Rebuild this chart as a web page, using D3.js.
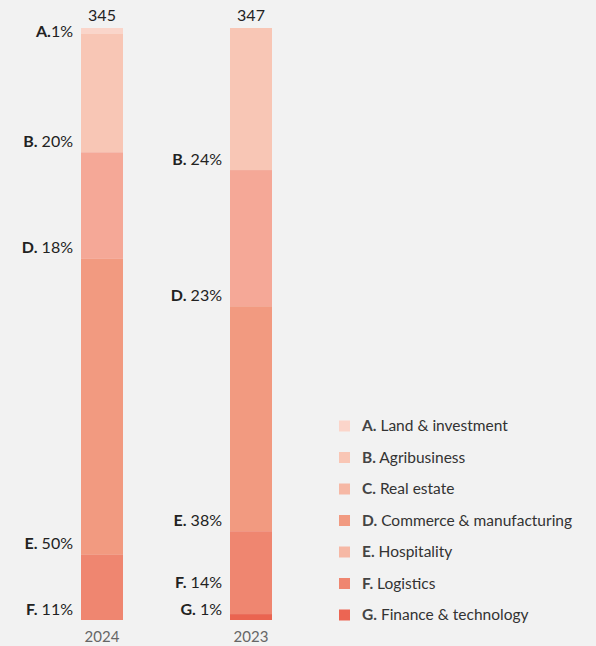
<!DOCTYPE html>
<html>
<head>
<meta charset="utf-8">
<script src="https://cdn.jsdelivr.net/npm/d3@7"></script>
<style>
  body { margin: 0; background: #f2f2f2; }
  svg { display: block; font-family: Lato, "Noto Sans", sans-serif; }
</style>
</head>
<body>
<div id="chart"></div>
<script>
var categories = ["A", "B", "C", "D", "E", "F", "G"];
var categoryNames = ["Land & investment", "Agribusiness", "Real estate", "Commerce & manufacturing", "Hospitality", "Logistics", "Finance & technology"];
var years = ["2024", "2023"];
var totals = [345, 347];
var values2024 = [1, 20, 0, 18, 50, 11, 0];
var values2023 = [0, 24, 0, 23, 38, 14, 1];
var barColors = ["#fad5ca", "#f8c6b5", "#f6b8a5", "#f5a897", "#f29a80", "#ef8670", "#ea6450"];
var legendColors = ["#fbd5ca", "#f9c6b5", "#f6b8a5", "#f19a81", "#f6b8a5", "#ef8670", "#ec6553"];

var width = 596, height = 646;
var svg = d3.select("#chart").append("svg")
  .attr("width", width)
  .attr("height", height);

var x = d3.scalePoint().domain(years).range([102, 251]);
var y = d3.scaleLinear().domain([0, 100]).range([620, 28]);
var barW = 42;

var series = [values2024, values2023];

years.forEach(function(yr, i) {
  var vals = series[i];
  var segs = [];
  var acc = 100;
  // stack from the top down: A first
  for (var k = 0; k < categories.length; k++) {
    if (vals[k] <= 0) continue;
    segs.push({ cat: k, top: acc, bottom: acc - vals[k], value: vals[k] });
    acc -= vals[k];
  }
  var g = svg.append("g");
  g.selectAll("rect")
    .data(segs)
    .enter().append("rect")
      .attr("x", x(yr) - barW / 2)
      .attr("width", barW)
      .attr("y", function(d) { return y(d.top); })
      .attr("height", function(d) { return y(d.bottom) - y(d.top); })
      .attr("fill", function(d) { return barColors[d.cat]; });

  // label positions, near the bottom of each segment, pushed up if they collide
  segs.forEach(function(d) {
    d.ly = Math.max(31, Math.min(611, y(d.bottom) - 11));
  });
  for (var j = segs.length - 2; j >= 0; j--) {
    if (segs[j].ly > segs[j + 1].ly - 27) segs[j].ly = segs[j + 1].ly - 27;
  }

  var lab = g.selectAll("text.lab")
    .data(segs)
    .enter().append("text")
      .attr("class", "lab")
      .attr("x", x(yr) - barW / 2 - 8)
      .attr("y", function(d) { return d.ly; })
      .attr("dy", "0.35em")
      .attr("text-anchor", "end")
      .attr("font-size", 16)
      .attr("fill", "#222");
  lab.append("tspan")
    .attr("font-weight", "bold")
    .text(function(d) { return categories[d.cat] + "."; });
  lab.append("tspan")
    .text(function(d) { return (d.cat > 0 ? " " : "") + d.value + "%"; });

  g.append("text")
    .attr("x", x(yr))
    .attr("y", 21)
    .attr("text-anchor", "middle")
    .attr("font-size", 16)
    .attr("fill", "#222")
    .text(totals[i]);

  g.append("text")
    .attr("x", x(yr))
    .attr("y", 642)
    .attr("text-anchor", "middle")
    .attr("font-size", 15)
    .attr("fill", "#666")
    .text(yr);
});

// legend
var legend = svg.append("g").attr("transform", "translate(339, 426)");
var item = legend.selectAll("g")
  .data(categories)
  .enter().append("g")
    .attr("transform", function(d, i) { return "translate(0," + (i * 31.5) + ")"; });
item.append("rect")
  .attr("x", 0).attr("y", -5.5)
  .attr("width", 11).attr("height", 11)
  .attr("fill", function(d, i) { return legendColors[i]; });
var lt = item.append("text")
  .attr("x", 23)
  .attr("dy", "0.35em")
  .attr("font-size", 15.5)
  .attr("fill", "#333");
lt.append("tspan")
  .attr("font-weight", "bold")
  .attr("fill", "#444")
  .text(function(d) { return d + "."; });
lt.append("tspan")
  .text(function(d, i) { return " " + categoryNames[i]; });
</script>
</body>
</html>
